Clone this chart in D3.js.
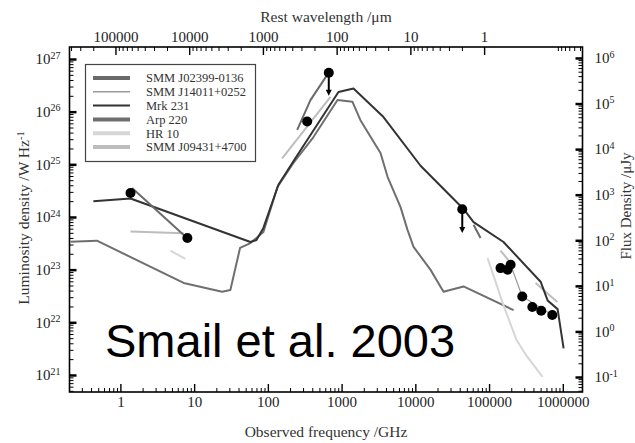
<!DOCTYPE html>
<html><head><meta charset="utf-8">
<script src="https://cdn.jsdelivr.net/npm/d3@7"></script>
<style>body{margin:0;background:#fff}svg{display:block}</style>
</head><body>
<svg id="chart" width="635" height="443"></svg>
<script>
// ---------------- data ----------------
const redshift = 2.5;
const cMicronGHz = 299792.458;

const xTickValues = [1, 10, 100, 1000, 10000, 100000, 1000000];
const xTickLabels = ["1", "10", "100", "1000", "10000", "100000", "1000000"];
const topTickValues = [100000, 10000, 1000, 100, 10, 1];
const topTickLabels = ["100000", "10000", "1000", "100", "10", "1"];
const leftTickExponents = [21, 22, 23, 24, 25, 26, 27];
const rightTickExponents = [-1, 0, 1, 2, 3, 4, 5, 6];

const seriesNames = ["SMM J02399-0136", "SMM J14011+0252", "Mrk 231", "Arp 220", "HR 10", "SMM J09431+4700"];

// Mrk 231 template (GHz, W/Hz)
const mrk231Freq = [0.43, 1.37, 58, 70, 87, 139, 237, 907, 1450, 3700, 11770, 45000, 61600, 157000, 500000, 622000, 850000, 1026000];
const mrk231Lum  = [2.0e24, 2.24e24, 3.35e23, 3.65e23, 6.2e23, 4.1e24, 1.32e25, 2.36e26, 2.76e26, 7.9e25, 9.4e24, 1.42e24, 8.0e23, 3.35e23, 5.9e22, 2.6e22, 1.78e22, 3.2e21];

// Arp 220 template
const arp220Freq = [0.21, 0.48, 7.2, 24, 31, 42, 58, 87, 135, 222, 415, 880, 1400, 1800, 3370, 4200, 6300, 7830, 9460, 16100, 24100, 45000, 215000];
const arp220Lum  = [3.4e23, 3.55e23, 5.6e22, 3.8e22, 4.1e22, 2.6e23, 3.2e23, 5.2e23, 3.7e24, 1.06e25, 3.3e25, 1.66e26, 1.55e26, 6.9e25, 1.64e25, 5.8e24, 1.54e24, 5.7e23, 2.7e23, 9.9e22, 3.8e22, 4.8e22, 1.7e22];

// SMM J02399-0136 pieces
const j02399RadioFreq = [1.44, 8.0];
const j02399RadioLum  = [3.55e24, 4.0e23];
const j02399FirFreq   = [250, 378, 638];
const j02399FirLum    = [4.5e25, 1.66e26, 5.0e26];
const j02399MirFreq   = [61600, 76700];
const j02399MirLum    = [7.1e23, 4.0e23];

// SMM J14011+0252 piece
const j14011OptFreq = [196000, 282000, 720000];
const j14011OptLum  = [1.24e23, 3.1e22, 1.38e22];

// HR 10 pieces
const hr10RadioFreq = [4.77, 7.6];
const hr10RadioLum  = [2.3e23, 1.6e23];
const hr10OptFreq   = [95500, 157000, 236000, 323000, 532000];
const hr10OptLum    = [1.66e23, 2.1e22, 4.6e21, 2.3e21, 9.2e20];

// SMM J09431+4700 pieces
const j09431RadioFreq = [1.37, 7.2];
const j09431RadioLum  = [5.3e23, 4.9e23];
const j09431FirFreq   = [156, 707];
const j09431FirLum    = [1.3e25, 1.9e26];
const j09431OptFreq   = [143000, 206000];
const j09431OptLum    = [2.3e23, 1.24e23];
const j09431UvFreq    = [428000, 842000];
const j09431UvLum     = [5.6e22, 2.44e22];

// observed photometry
const obsFreq = [1.37, 8.1, 341, 670, 43300, 143000, 178000, 196000, 282000, 386000, 510000, 720000];
const obsLum  = [2.86e24, 4.0e23, 6.5e25, 5.5e26, 1.4e24, 1.07e23, 1.0e23, 1.24e23, 3.1e22, 1.96e22, 1.66e22, 1.38e22];
const limitFreq = [670, 43300];
const limitFrom = [5.5e26, 1.4e24];
const limitTo   = [2.1e26, 5.2e23];

// ---------------- styles ----------------
const styles = {
  "SMM J02399-0136": {color: "#6a6a6a", plotWidth: 2, legendWidth: 4},
  "SMM J14011+0252": {color: "#9a9a9a", plotWidth: 1.2, legendWidth: 1.5},
  "Mrk 231":         {color: "#333333", plotWidth: 2, legendWidth: 2},
  "Arp 220":         {color: "#6f6f6f", plotWidth: 2, legendWidth: 4},
  "HR 10":           {color: "#d6d6d6", plotWidth: 2, legendWidth: 4},
  "SMM J09431+4700": {color: "#bdbdbd", plotWidth: 2, legendWidth: 4}
};

const zip = (a, b) => a.map((v, i) => [v, b[i]]);
const segments = [
  {name: "Arp 220", pts: zip(arp220Freq, arp220Lum)},
  {name: "HR 10", pts: zip(hr10RadioFreq, hr10RadioLum)},
  {name: "HR 10", pts: zip(hr10OptFreq, hr10OptLum)},
  {name: "SMM J09431+4700", pts: zip(j09431RadioFreq, j09431RadioLum)},
  {name: "SMM J09431+4700", pts: zip(j09431FirFreq, j09431FirLum)},
  {name: "SMM J09431+4700", pts: zip(j09431OptFreq, j09431OptLum)},
  {name: "SMM J09431+4700", pts: zip(j09431UvFreq, j09431UvLum)},
  {name: "SMM J14011+0252", pts: zip(j14011OptFreq, j14011OptLum)},
  {name: "Mrk 231", pts: zip(mrk231Freq, mrk231Lum)},
  {name: "SMM J02399-0136", pts: zip(j02399RadioFreq, j02399RadioLum)},
  {name: "SMM J02399-0136", pts: zip(j02399FirFreq, j02399FirLum)},
  {name: "SMM J02399-0136", pts: zip(j02399MirFreq, j02399MirLum)}
];

// ---------------- layout ----------------
const L = 69.5, R = 582.5, T = 47, B = 392;
const serif = "'Liberation Serif', 'Times New Roman', serif";

const x = d3.scaleLog().domain([0.204, 1.85e6]).range([L, R]);
const yL = d3.scaleLog().domain([4.75e20, 1.69e27]).range([B, T]);
const yR = d3.scaleLog().domain([0.0469, 1.74e6]).range([B, T]);
const kz = cMicronGHz / (1 + redshift);
const xTop = d3.scaleLog().domain([kz / 0.204, kz / 1.85e6]).range([L, R]);

const svg = d3.select("#chart");
svg.append("rect").attr("width", 635).attr("height", 443).attr("fill", "#fff");

svg.append("defs").append("clipPath").attr("id", "clip")
  .append("rect").attr("x", L).attr("y", T).attr("width", R - L).attr("height", B - T);

// minor tick lists
function minors(decades, lo, hi) {
  const out = [];
  decades.forEach(d => { for (let m = 2; m <= 9; m++) { const v = d * m; if (v > lo && v < hi) out.push(v); } });
  return out;
}
const pow = e => Math.pow(10, e);
const xMinor = minors(d3.range(-1, 7).map(pow), 0.204, 1.85e6);
const topMinor = minors(d3.range(0, 6).map(pow), 1, 419000).concat([0.1, 0.09, 0.08, 0.07, 0.06, 0.05]);
const leftMinor = minors(d3.range(20, 28).map(pow), 4.75e20, 1.69e27);
const rightMinor = minors(d3.range(-2, 7).map(pow), 0.0469, 1.74e6);

function styleAxis(g, w) {
  g.select(".domain").remove();
  g.selectAll(".tick line").attr("stroke", "#000").attr("stroke-width", w);
  g.selectAll("text").attr("font-family", serif).attr("font-size", 15).attr("fill", "#222");
}
function supLabels(g, exps) {
  g.selectAll(".tick text").each(function(d, i) {
    const t = d3.select(this);
    t.text(null);
    t.append("tspan").text("10");
    t.append("tspan").attr("dy", "-0.55em").attr("font-size", 10).text(String(exps[i]));
  });
}

// bottom
svg.append("g").attr("transform", `translate(0,${B})`)
  .call(d3.axisBottom(x).tickValues(xMinor).tickSizeInner(-4).tickSizeOuter(0).tickFormat(() => ""))
  .call(g => styleAxis(g, 1));
svg.append("g").attr("transform", `translate(0,${B})`)
  .call(d3.axisBottom(x).tickValues(xTickValues).tickSizeInner(-8).tickSizeOuter(0).tickPadding(4)
        .tickFormat((d, i) => xTickLabels[i]))
  .call(g => styleAxis(g, 1.4));
// top
svg.append("g").attr("transform", `translate(0,${T})`)
  .call(d3.axisTop(xTop).tickValues(topMinor).tickSizeInner(-4).tickSizeOuter(0).tickFormat(() => ""))
  .call(g => styleAxis(g, 1));
svg.append("g").attr("transform", `translate(0,${T})`)
  .call(d3.axisTop(xTop).tickValues(topTickValues).tickSizeInner(-8).tickSizeOuter(0).tickPadding(5.5)
        .tickFormat((d, i) => topTickLabels[i]))
  .call(g => styleAxis(g, 1.4));
// left
svg.append("g").attr("transform", `translate(${L},0)`)
  .call(d3.axisLeft(yL).tickValues(leftMinor).tickSizeInner(-4).tickSizeOuter(0).tickFormat(() => ""))
  .call(g => styleAxis(g, 1));
svg.append("g").attr("transform", `translate(${L},0)`)
  .call(d3.axisLeft(yL).tickValues(leftTickExponents.map(pow)).tickSizeInner(-7).tickSizeOuter(0).tickPadding(9))
  .call(g => { styleAxis(g, 2.5); supLabels(g, leftTickExponents); });
// right
svg.append("g").attr("transform", `translate(${R},0)`)
  .call(d3.axisRight(yR).tickValues(rightMinor).tickSizeInner(-4).tickSizeOuter(0).tickFormat(() => ""))
  .call(g => styleAxis(g, 1));
svg.append("g").attr("transform", `translate(${R},0)`)
  .call(d3.axisRight(yR).tickValues(rightTickExponents.map(pow)).tickSizeInner(-7).tickSizeOuter(0).tickPadding(12))
  .call(g => { styleAxis(g, 2.5); supLabels(g, rightTickExponents); });

// frame
svg.append("rect").attr("x", L).attr("y", T).attr("width", R - L).attr("height", B - T)
  .attr("fill", "none").attr("stroke", "#000").attr("stroke-width", 1.6);

// curves
const line = d3.line().x(d => x(d[0])).y(d => yL(d[1]));
const plot = svg.append("g").attr("clip-path", "url(#clip)");
plot.selectAll("path.seg").data(segments).join("path").attr("class", "seg")
  .attr("d", d => line(d.pts))
  .attr("fill", "none")
  .attr("stroke", d => styles[d.name].color)
  .attr("stroke-width", d => styles[d.name].plotWidth)
  .attr("stroke-linejoin", "round");

// upper-limit arrows
limitFreq.forEach((f, i) => {
  const xx = x(f), y0 = yL(limitFrom[i]), y1 = yL(limitTo[i]);
  plot.append("line").attr("x1", xx).attr("x2", xx).attr("y1", y0).attr("y2", y1 - 3)
    .attr("stroke", "#000").attr("stroke-width", 2);
  plot.append("path").attr("d", `M${xx - 3},${y1 - 5} L${xx + 3},${y1 - 5} L${xx},${y1 + 1} Z`).attr("fill", "#000");
});
// data points
plot.selectAll("circle.obs").data(zip(obsFreq, obsLum)).join("circle").attr("class", "obs")
  .attr("cx", d => x(d[0])).attr("cy", d => yL(d[1])).attr("r", 5).attr("fill", "#000");

// legend
const lg = svg.append("g");
lg.append("rect").attr("x", 85.5).attr("y", 64.5).attr("width", 170).attr("height", 97)
  .attr("fill", "#fff").attr("stroke", "#444").attr("stroke-width", 1.2);
seriesNames.forEach((n, i) => {
  const yy = 78 + i * 13.8;
  lg.append("line").attr("x1", 93).attr("x2", 130).attr("y1", yy).attr("y2", yy)
    .attr("stroke", styles[n].color).attr("stroke-width", styles[n].legendWidth);
  lg.append("text").attr("x", 146).attr("y", yy).attr("dy", "0.35em")
    .attr("font-family", serif).attr("font-size", 12.5).attr("fill", "#333").text(n);
});

// axis titles
svg.append("text").attr("x", 326).attr("y", 22).attr("text-anchor", "middle")
  .attr("font-family", serif).attr("font-size", 15.5).attr("fill", "#333").text("Rest wavelength  /\u03bcm");
svg.append("text").attr("x", 326).attr("y", 437).attr("text-anchor", "middle")
  .attr("font-family", serif).attr("font-size", 15.5).attr("fill", "#333").text("Observed frequency  /GHz");
const lt = svg.append("text").attr("transform", "translate(29,218) rotate(-90)").attr("text-anchor", "middle")
  .attr("font-family", serif).attr("font-size", 15.5).attr("fill", "#333");
lt.append("tspan").text("Luminosity density  /W Hz");
lt.append("tspan").attr("dy", "-0.5em").attr("font-size", 10.5).text("-1");
svg.append("text").attr("transform", "translate(631,206) rotate(-90)").attr("text-anchor", "middle")
  .attr("font-family", serif).attr("font-size", 15).attr("fill", "#333").text("Flux Density  /\u03bcJy");

// annotation
svg.append("text").attr("x", 105).attr("y", 357)
  .attr("font-family", "'Liberation Sans', Arial, sans-serif").attr("font-size", 47).attr("fill", "#000")
  .text("Smail et al. 2003");
</script>
</body></html>
